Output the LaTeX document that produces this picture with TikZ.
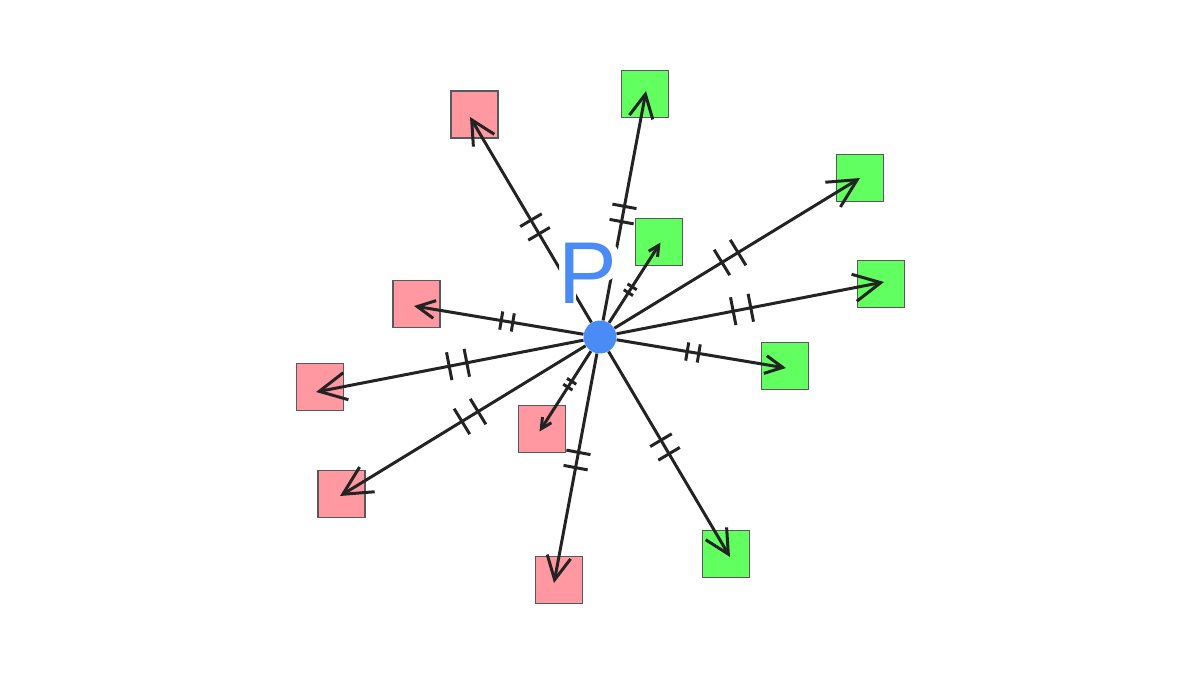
\documentclass[tikz,border=0pt]{standalone}
\usepackage{fontspec}
\newfontfamily\labelfont{Liberation Sans}
\usetikzlibrary{arrows.meta,calc}
\definecolor{pblue}{HTML}{4B8BF5}
\definecolor{boxred}{HTML}{FF98A1}
\definecolor{boxgreen}{HTML}{61FF5F}
\definecolor{raygray}{HTML}{232323}
\begin{document}
\begin{tikzpicture}[x=0.02cm,y=-0.02cm,
		box/.style={draw=black!65, line width=0.6pt, minimum size=0.94cm, inner sep=0pt},
		redbox/.style={box, fill=boxred},
		greenbox/.style={box, fill=boxgreen},
		ray/.style={draw=raygray, line width=1.7pt},
		plabel/.style={font=\labelfont\fontsize{50}{50}\selectfont, inner sep=0pt}]
	\useasboundingbox (0,0) rectangle (1200,675);
	% squares
	\node[redbox] (r1) at (474.5,114.5) {};
	\node[redbox] (r2) at (416.5,304) {};
	\node[redbox] (r3) at (320,387) {};
	\node[redbox] (r4) at (341.5,494) {};
	\node[redbox] (r5) at (542,429) {};
	\node[redbox] (r6) at (559,580) {};
	\node[greenbox] (g1) at (645,94) {};
	\node[greenbox] (g2) at (659,242) {};
	\node[greenbox] (g3) at (860,178) {};
	\node[greenbox] (g4) at (881,284) {};
	\node[greenbox] (g5) at (785,366) {};
	\node[greenbox] (g6) at (726,554) {};
	% centre point
	\node[circle, fill=pblue, minimum size=0.66cm, inner sep=0pt] (c) at (600,337) {};
	% rays with arrow tips and double ticks, kept clear of the label
	\begin{scope}
		\clip (0,0) -- (1200,0) -- (1200,675) -- (0,675) -- cycle
			(559,308) -- (576,308) -- (576,283) -- (598,283)
			.. controls (628,283) and (628,238) .. (598,238) -- (559,238) -- cycle;
		\foreach \n/\dx/\dy in {r1/-130/-220, r2/-186/-31, r3/-284/55, r4/-260/159, r5/-60.5/94.5, r6/-46/246,
			g1/46/-246, g2/60.5/-94.5, g3/260/-159, g4/284/-55, g5/186/31, g6/130/220} {
			\coordinate (t\n) at ($(c.center)+(\dx,\dy)$);
			\pgfmathsetmacro\len{veclen(\dx,\dy)}
			\pgfmathsetmacro\al{0.0936*\len*0.02}
			\pgfmathsetmacro\aw{0.095*\len*0.02}
			\pgfmathsetmacro\tk{0.049*\len*0.02}
			\draw[ray, -{Straight Barb[length=\al cm, width=\aw cm]}] (c) -- (t\n);
			\foreach \s in {0.469, 0.531} {
				\draw[ray] ($(c.center)!\s!(t\n)!\tk cm!90:(t\n)$) -- ($(c.center)!\s!(t\n)!\tk cm!-90:(t\n)$);
			}
		}
	\end{scope}
	\node[plabel, text=pblue] (p) at (588,273) {P};
\end{tikzpicture}
\end{document}
